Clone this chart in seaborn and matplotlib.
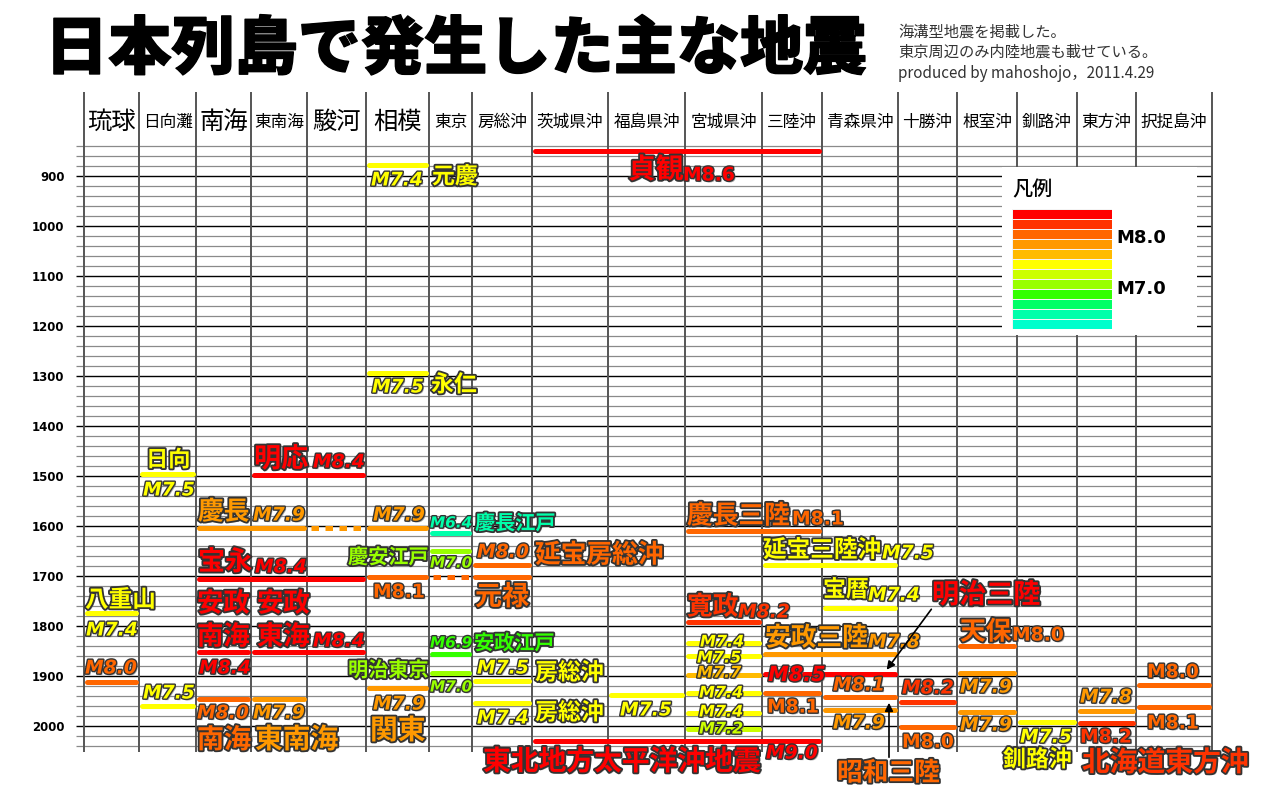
import numpy as np
import pandas as pd
import matplotlib
matplotlib.use('Agg')
import matplotlib.pyplot as plt
import matplotlib.patheffects as pe
from matplotlib.patches import Rectangle
from matplotlib.colors import ListedColormap
import seaborn as sns

# regions (columns), west -> east / south -> north
regions = ['琉球', '日向灘', '南海', '東南海', '駿河', '相模', '東京', '房総沖', '茨城県沖',
           '福島県沖', '宮城県沖', '三陸沖', '青森県沖', '十勝沖', '根室沖', '釧路沖', '東方沖', '択捉島沖']

# each quake segment: first column, last column, year (as drawn), magnitude
seg_first = [8, 5, 5, 1, 3, 2, 4, 5, 6, 10, 6, 7, 11, 5, 6, 7, 2, 12, 0, 10,
             10, 14, 2, 3, 6, 11, 10, 6, 14, 11, 10, 7, 0, 17, 5, 10, 11, 9, 12, 2,
             3, 13, 7, 1, 17, 12, 16, 14, 10, 15, 16, 13, 10, 8]
seg_last = [11, 5, 5, 1, 4, 3, 4, 5, 6, 11, 6, 7, 12, 5, 6, 7, 4, 12, 0, 10,
            10, 14, 2, 4, 6, 12, 10, 6, 14, 12, 10, 7, 0, 17, 5, 10, 11, 9, 12, 2,
            3, 13, 7, 1, 17, 12, 16, 14, 10, 15, 16, 13, 10, 11]
seg_year = [850, 878, 1294, 1495, 1498, 1604, 1604, 1604, 1614, 1610, 1650, 1678, 1678, 1702, 1702, 1702, 1706, 1764, 1774, 1792,
            1834, 1840, 1852, 1852, 1856, 1856, 1860, 1894, 1894, 1896, 1898, 1910, 1912, 1918, 1924, 1934, 1934, 1938, 1942, 1946,
            1946, 1952, 1954, 1960, 1962, 1968, 1970, 1972, 1974, 1992, 1994, 2002, 2006, 2030]
seg_mag = [8.6, 7.4, 7.5, 7.5, 8.4, 7.9, 7.9, 7.9, 6.4, 8.1, 7.0, 8.0, 7.5, 8.1, 8.1, 8.1, 8.4, 7.4, 7.4, 8.2,
           7.4, 8.0, 8.4, 8.4, 6.9, 7.8, 7.5, 7.0, 7.9, 8.5, 7.7, 7.5, 8.0, 8.0, 7.9, 7.4, 8.1, 7.5, 8.1, 8.0,
           7.9, 8.2, 7.4, 7.5, 8.1, 7.9, 7.8, 7.9, 7.4, 7.5, 8.2, 8.0, 7.2, 9.0]
dashed_segs = [6, 14]

# legend colour bands, strongest first
band_colors = ['#FF0000', '#FF3300', '#FF6600', '#FF9900', '#FFBB00', '#FFFF00',
               '#CCFF00', '#99FF00', '#33FF00', '#00FF66', '#00FFAA', '#00FFCC']

# ---- layout (pixels) ----
col_width = [55, 57, 55, 56, 59, 63, 43, 60, 76, 77, 77, 60, 76, 59, 60, 60, 59, 76]
big_header = [0, 2, 4, 5]

# labels: text, magnitude (for colour), left x px, centre y px, size pt, kind
# kind: 'k' kanji name, 'i' italic magnitude, 'u' upright magnitude
labels = [
    ('元慶', 7.4, 432, 177, 16.5, 'k'), ('貞観', 8.6, 628, 170, 20, 'k'),
    ('永仁', 7.5, 431, 385, 16.5, 'k'), ('日向', 7.5, 146, 460, 16, 'k'),
    ('明応', 8.4, 254, 459, 19.5, 'k'), ('慶長', 7.9, 198, 512, 18.5, 'k'),
    ('慶長江戸', 6.4, 475, 523, 14.5, 'k'), ('慶長三陸', 8.1, 687, 516, 18.5, 'k'),
    ('宝永', 8.4, 198, 562, 19.5, 'k'), ('慶安江戸', 7.0, 348, 557, 14.5, 'k'),
    ('延宝房総沖', 8.0, 535, 555, 18.5, 'k'), ('延宝三陸沖', 7.5, 763, 550, 17, 'k'),
    ('元禄', 8.1, 475, 597, 19.5, 'k'), ('宝暦', 7.4, 823, 590, 16.5, 'k'),
    ('八重山', 7.4, 85, 600, 17, 'k'), ('寛政', 8.2, 687, 607, 18.5, 'k'),
    ('明治三陸', 8.5, 932, 595, 19.5, 'k'), ('安政', 8.4, 197, 604, 19, 'k'),
    ('南海', 8.4, 197, 637, 19, 'k'), ('安政', 8.4, 257, 604, 19, 'k'),
    ('東海', 8.4, 257, 637, 19, 'k'), ('天保', 8.0, 960, 632, 18.5, 'k'),
    ('安政江戸', 6.9, 474, 643, 14.5, 'k'), ('安政三陸', 7.8, 765, 638, 18.5, 'k'),
    ('明治東京', 7.0, 348, 670, 14.5, 'k'), ('房総沖', 7.5, 535, 673, 16.5, 'k'),
    ('房総沖', 7.4, 535, 713, 16.5, 'k'), ('関東', 7.9, 370, 731, 20, 'k'),
    ('南海', 8.0, 197, 740, 19.5, 'k'), ('東南海', 7.9, 255, 740, 20, 'k'),
    ('東北地方太平洋沖地震', 9.0, 483, 762, 20, 'k'), ('昭和三陸', 8.1, 837, 773, 18.5, 'k'),
    ('釧路沖', 7.5, 1003, 760, 16.5, 'k'), ('北海道東方沖', 8.2, 1082, 763, 20, 'k'),
    ('M7.4', 7.4, 371, 180, 13.5, 'i'), ('M8.6', 8.6, 683, 175, 13.5, 'u'),
    ('M7.5', 7.5, 372, 387, 13.5, 'i'), ('M7.5', 7.5, 143, 490, 13.5, 'i'),
    ('M8.4', 8.4, 313, 462, 13.5, 'i'), ('M7.9', 7.9, 253, 515, 13.5, 'i'),
    ('M7.9', 7.9, 373, 515, 13.5, 'i'), ('M6.4', 6.4, 430, 523, 11, 'i'),
    ('M8.1', 8.1, 792, 519, 13.5, 'u'), ('M8.4', 8.4, 255, 567, 13.5, 'i'),
    ('M8.0', 8.0, 477, 552, 13.5, 'i'), ('M7.0', 7.0, 430, 563, 11, 'i'),
    ('M7.5', 7.5, 882, 553, 13.5, 'i'), ('M8.1', 8.1, 373, 592, 13.5, 'u'),
    ('M7.4', 7.4, 868, 595, 13.5, 'i'), ('M7.4', 7.4, 86, 630, 13.5, 'i'),
    ('M8.2', 8.2, 738, 612, 13.5, 'i'), ('M8.4', 8.4, 313, 641, 13.5, 'i'),
    ('M8.0', 8.0, 1012, 635, 13.5, 'u'), ('M7.8', 7.8, 868, 642, 13.5, 'i'),
    ('M6.9', 6.9, 430, 643, 11, 'i'), ('M8.4', 8.4, 199, 668, 13.5, 'i'),
    ('M7.5', 7.5, 477, 668, 13.5, 'i'), ('M8.0', 8.0, 85, 668, 13.5, 'i'),
    ('M8.5', 8.5, 768, 675, 15, 'i'), ('M7.0', 7.0, 430, 687, 11, 'i'),
    ('M8.1', 8.1, 833, 685, 13.5, 'i'), ('M7.9', 7.9, 960, 687, 13.5, 'i'),
    ('M8.2', 8.2, 902, 688, 13.5, 'i'), ('M8.0', 8.0, 1147, 672, 13.5, 'u'),
    ('M7.5', 7.5, 143, 693, 13.5, 'i'), ('M7.9', 7.9, 373, 704, 13.5, 'i'),
    ('M7.8', 7.8, 1080, 697, 13.5, 'i'), ('M8.1', 8.1, 767, 707, 13.5, 'u'),
    ('M7.5', 7.5, 620, 710, 13.5, 'i'), ('M8.0', 8.0, 197, 713, 13.5, 'i'),
    ('M7.9', 7.9, 253, 713, 13.5, 'i'), ('M7.4', 7.4, 477, 718, 13.5, 'i'),
    ('M7.9', 7.9, 833, 723, 13.5, 'i'), ('M8.1', 8.1, 1147, 723, 13.5, 'u'),
    ('M7.9', 7.9, 960, 725, 13.5, 'i'), ('M7.5', 7.5, 1020, 737, 13.5, 'i'),
    ('M8.2', 8.2, 1080, 737, 13.5, 'u'), ('M8.0', 8.0, 902, 742, 13.5, 'u'),
    ('M9.0', 9.0, 766, 753, 13.5, 'i'),
    # 宮城県沖 stack
    ('M7.4', 7.4, 700, 642, 11.5, 'i'), ('M7.5', 7.5, 697, 658, 11.5, 'i'),
    ('M7.7', 7.7, 697, 673, 11.5, 'i'), ('M7.4', 7.4, 699, 693, 11.5, 'i'),
    ('M7.4', 7.4, 699, 712, 11.5, 'i'), ('M7.2', 7.2, 699, 729, 11.5, 'i'),
]


def yr(py):
    # pixel row -> year on the axis
    return 900 + (py - 176) * 2


def mag_color(m):
    idx = int(np.floor(round((8.5 - m) / 0.2, 6)))
    return band_colors[min(max(idx, 0), len(band_colors) - 1)]


sns.set_theme(style='white')
plt.rcParams['font.family'] = ['Noto Sans CJK JP', 'DejaVu Sans']
plt.rcParams['text.color'] = 'black'
plt.rcParams['ytick.color'] = 'black'

fig = plt.figure(figsize=(12.8, 8), dpi=100)
ax = fig.add_axes([84 / 1280, 48 / 800, 1128 / 1280, 606 / 800])
ax.set_xlim(84, 1212)
ax.set_ylim(2052, 840)
for s in ax.spines.values():
    s.set_visible(False)
ax.set_xticks([])
year_ticks = list(range(900, 2001, 100))
ax.set_yticks(year_ticks)
ax.set_yticklabels([str(t) for t in year_ticks], fontsize=8.5, fontweight='bold',
                   family='DejaVu Sans', color='black')
ax.tick_params(axis='y', left=False, pad=8)

# grid
minor = [y for y in range(840, 2052, 20) if y % 100]
ax.hlines(minor, 76, 1212, colors='#8a8a8a', lw=0.9, zorder=1, clip_on=False)
ax.hlines(year_ticks, 76, 1212, colors='black', lw=1.0, zorder=1, clip_on=False)
edges = 84 + np.concatenate([[0], np.cumsum(col_width)])
ax.vlines(edges, yr(92), 2052, colors='#555555', lw=1.4, zorder=2, clip_on=False)

for i, name in enumerate(regions):
    ax.text((edges[i] + edges[i + 1]) / 2, yr(122), name, ha='center', va='center',
            fontsize=17.5 if i in big_header else 12, color='black')

# quake segments
df = pd.DataFrame({'c0': seg_first, 'c1': seg_last, 'year': seg_year, 'mag': seg_mag})
df['x0'] = edges[df['c0']] + 3
df['x1'] = edges[df['c1'] + 1] - 3
df['color'] = df['mag'].map(mag_color)
df['dashed'] = df.index.isin(dashed_segs)
solid = df[~df['dashed']]
ax.hlines(solid['year'], solid['x0'], solid['x1'], colors=solid['color'], lw=3.6,
          capstyle='round', zorder=4)
for _, r in df[df['dashed']].iterrows():
    ax.plot([r['x0'] + 1, r['x1']], [r['year'], r['year']], color=r['color'], lw=3.6,
            linestyle=(0, (1.5, 1.3)), dash_capstyle='butt', zorder=4)

# legend box
ax.add_patch(Rectangle((1002, yr(167)), 195, yr(335) - yr(167), facecolor='white',
                       edgecolor='none', zorder=3))
ax.text(1012, yr(190), '凡例', fontsize=14.5, fontweight='medium', color='black',
        ha='left', va='center', zorder=5)
for txt, py in [('M8.0', 238), ('M7.0', 289)]:
    ax.text(1116, yr(py), txt, fontsize=13, fontweight='bold', family='DejaVu Sans',
            color='black', ha='left', va='center', zorder=5)
lax = fig.add_axes([1012 / 1280, 1 - 329 / 800, 100 / 1280, 120 / 800])
sns.heatmap(np.arange(len(band_colors)).reshape(-1, 1), cmap=ListedColormap(band_colors),
            cbar=False, ax=lax, xticklabels=False, yticklabels=False,
            linewidths=0.4, linecolor='#f4f4f4')

# labels
for text, m, x, py, size, kind in labels:
    lw = 2.6 if kind == 'k' else 2.0
    effects = [pe.SimplePatchShadow(offset=(1.2, -1.2), shadow_rgbFace='#777777', alpha=0.6),
               pe.Stroke(linewidth=lw, foreground='#333333'), pe.Normal()]
    kw = dict(fontweight='bold')
    if kind != 'k':
        kw['family'] = 'DejaVu Sans'
        kw['fontstyle'] = 'italic' if kind == 'i' else 'normal'
    ax.text(x, yr(py), text, color=mag_color(m), fontsize=size, ha='left', va='center',
            path_effects=effects, zorder=6, clip_on=False, **kw)

# arrows for 明治三陸 / 昭和三陸
ax.annotate('', xy=(885, yr(672)), xytext=(933, yr(607)), zorder=7, annotation_clip=False,
            arrowprops=dict(arrowstyle='-|>', color='black', lw=1.2, mutation_scale=12))
ax.annotate('', xy=(889, yr(700)), xytext=(889, yr(760)), zorder=7, annotation_clip=False,
            arrowprops=dict(arrowstyle='-|>', color='black', lw=1.2, mutation_scale=12))

# title and notes
fig.text(45 / 1280, 1 - 50 / 800, '日本列島で発生した主な地震', fontsize=45.5, fontweight='heavy',
         ha='left', va='center', color='black',
         path_effects=[pe.Stroke(linewidth=1.0, foreground='black'), pe.Normal()])
notes = ['海溝型地震を掲載した。', '東京周辺のみ内陸地震も載せている。', 'produced by mahoshojo，2011.4.29']
for k, line in enumerate(notes):
    fig.text(898 / 1280, 1 - (32 + 20.5 * k) / 800, line, fontsize=11, color='#333333',
             ha='left', va='center')

fig.savefig('out.png', dpi=100)
